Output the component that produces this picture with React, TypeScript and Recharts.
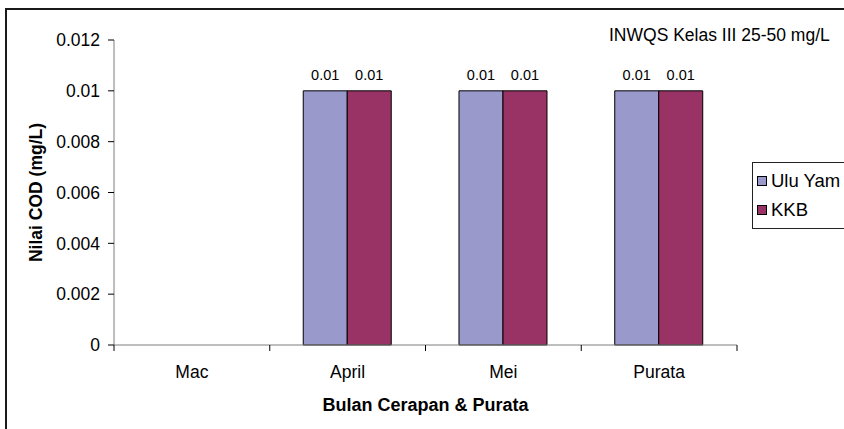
import React from 'react';
import { BarChart, Bar, XAxis, YAxis, Legend, LabelList } from 'recharts';

const months = ['Mac', 'April', 'Mei', 'Purata'];
const uluYam = [null, 0.01, 0.01, 0.01];
const kkb = [null, 0.01, 0.01, 0.01];
const seriesNames = ['Ulu Yam', 'KKB'];
const yTicks = [0, 0.002, 0.004, 0.006, 0.008, 0.01, 0.012];

const data = months.map((m, i) => ({ month: m, uluYam: uluYam[i], kkb: kkb[i] }));

const W = 844;
const H = 429;
const MARGIN = { top: 40, right: 107, left: 0, bottom: 54 };
const Y_AXIS_W = 114;
const PLOT_W = W - MARGIN.left - MARGIN.right - Y_AXIS_W;
const BAND = PLOT_W / months.length;
const FONT = 'Arial, "Liberation Sans", sans-serif';

const MonthTick = (props: any) => {
    const { x, y, payload, index } = props;
    const last = index === months.length - 1;
    return (
        <g>
            <line x1={x - BAND / 2} x2={x - BAND / 2} y1={y} y2={y + 6} stroke="#000" />
            {last && <line x1={x + BAND / 2} x2={x + BAND / 2} y1={y} y2={y + 6} stroke="#000" />}
            <text x={x} y={y + 33} textAnchor="middle" fontSize={17.5} fontFamily={FONT} fill="#000">
                {payload.value}
            </text>
        </g>
    );
};

const YTitle = (props: any) => {
    const vb = props.viewBox || { x: 0, y: 40, width: 114, height: 305 };
    const cx = vb.x + 36;
    const cy = vb.y + vb.height / 2;
    return (
        <text
            x={cx}
            y={cy}
            transform={`rotate(-90, ${cx}, ${cy})`}
            textAnchor="middle"
            dominantBaseline="central"
            fontSize={17.5}
            fontWeight="bold"
            fontFamily={FONT}
            fill="#000"
        >
            Nilai COD (mg/L)
        </text>
    );
};

const LegendBox = (props: any) => {
    const payload = [...(props.payload || [])].sort(
        (a: any, b: any) => seriesNames.indexOf(a.value) - seriesNames.indexOf(b.value)
    );
    return (
        <div
            style={{
                border: '1px solid #222',
                background: '#fff',
                padding: '3px 0 5px 4px',
                fontFamily: FONT,
                fontSize: 18.5,
                color: '#000',
                boxSizing: 'border-box',
                height: 67,
            }}
        >
            {payload.map((p: any) => (
                <div key={p.value} style={{ display: 'flex', alignItems: 'center', height: 29, whiteSpace: 'nowrap' }}>
                    <span
                        style={{
                            display: 'inline-block',
                            width: 8,
                            height: 8,
                            background: p.color,
                            border: '1px solid #000',
                            marginRight: 4,
                        }}
                    />
                    {p.value}
                </div>
            ))}
        </div>
    );
};

export default function App() {
    return (
        <div style={{ position: 'absolute', left: 0, top: 0, width: W, height: H, overflow: 'hidden', background: '#fff' }}>
            <div
                style={{
                    position: 'absolute',
                    left: 5,
                    top: 8,
                    width: 1000,
                    height: 1000,
                    borderTop: '2px solid #1a1a1a',
                    borderLeft: '2px solid #1a1a1a',
                }}
            />
            <div
                style={{
                    position: 'absolute',
                    left: 609,
                    top: 26,
                    fontFamily: FONT,
                    fontSize: 17.5,
                    lineHeight: '18px',
                    whiteSpace: 'nowrap',
                    color: '#000',
                }}
            >
                INWQS Kelas III 25-50 mg/L
            </div>
            <div style={{ position: 'absolute', left: 0, top: 0 }}>
                <BarChart
                    width={W}
                    height={H}
                    data={data}
                    margin={MARGIN}
                    barCategoryGap="21.5%"
                    barGap={0}
                >
                    <XAxis
                        dataKey="month"
                        height={30}
                        axisLine={{ stroke: '#7f7f7f' }}
                        tickLine={false}
                        tickSize={0}
                        tickMargin={0}
                        tick={<MonthTick />}
                        interval={0}
                        label={{
                            value: 'Bulan Cerapan & Purata',
                            position: 'bottom',
                            offset: 23,
                            fontSize: 18,
                            fontWeight: 'bold',
                            fontFamily: FONT,
                            fill: '#000',
                        }}
                    />
                    <YAxis
                        width={Y_AXIS_W}
                        domain={[0, 0.012]}
                        ticks={yTicks}
                        interval={0}
                        axisLine={{ stroke: '#7f7f7f' }}
                        tickLine={{ stroke: '#000' }}
                        tickSize={6}
                        tickMargin={8}
                        tick={{ fontSize: 17.5, fontFamily: FONT, fill: '#000' }}
                        label={<YTitle />}
                    />
                    <Legend
                        layout="vertical"
                        align="center"
                        verticalAlign="middle"
                        content={<LegendBox />}
                        wrapperStyle={{ left: 752, top: 162, width: 110 }}
                    />
                    <Bar dataKey="uluYam" name="Ulu Yam" fill="#9999CC" stroke="#000" strokeWidth={1} isAnimationActive={false}>
                        <LabelList dataKey="uluYam" position="top" offset={11} fontSize={14.5} fontFamily={FONT} fill="#000" />
                    </Bar>
                    <Bar dataKey="kkb" name="KKB" fill="#993366" stroke="#000" strokeWidth={1} isAnimationActive={false}>
                        <LabelList dataKey="kkb" position="top" offset={11} fontSize={14.5} fontFamily={FONT} fill="#000" />
                    </Bar>
                </BarChart>
            </div>
        </div>
    );
}
